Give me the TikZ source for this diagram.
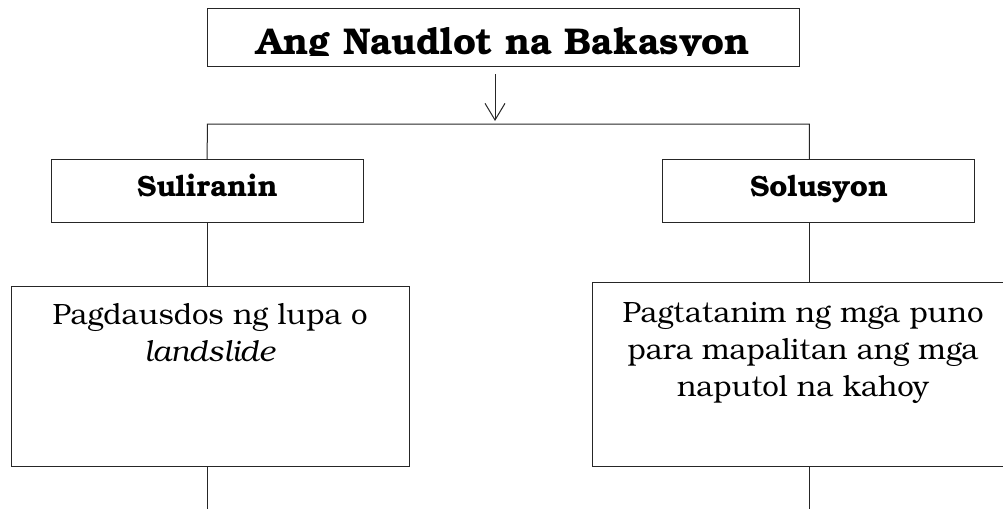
\documentclass[tikz,border=0pt]{standalone}
\usepackage{fontspec}
\setmainfont{texgyrebonum}[Extension=.otf,UprightFont=*-regular,BoldFont=*-bold,ItalicFont=*-italic,BoldItalicFont=*-bolditalic]
\usetikzlibrary{arrows.meta}
\tikzset{
  box/.style={draw=black!85,line width=0.75pt,inner sep=0pt,outer sep=0pt,rectangle},
  conn/.style={draw=black!85,line width=0.75pt},
  titletext/.style={inner sep=0pt,anchor=base,font=\bfseries\fontsize{27.95pt}{33pt}\selectfont},
  headtext/.style={inner sep=0pt,anchor=base,font=\bfseries\fontsize{22pt}{26pt}\selectfont},
  bodytext/.style={inner sep=0pt,anchor=base,align=center,font=\fontsize{22pt}{28pt}\selectfont},
}
\begin{document}
\begin{tikzpicture}[x=0.75pt,y=-0.75pt]
\useasboundingbox (0,0) rectangle (1003,508);
% boxes
\node[box,minimum width=443.85pt,minimum height=43.5pt] (title) at (503.4,37.3) {};
\node[box,minimum width=234.2pt,minimum height=47.55pt] (sul) at (207.2,191) {};
\node[box,minimum width=234.2pt,minimum height=47.55pt] (sol) at (818.8,191) {};
\node[box,minimum width=298.9pt,minimum height=135pt] (lb) at (210.5,376.7) {};
\node[box,minimum width=315.5pt,minimum height=138pt] (rb) at (803,374.7) {};
% texts
\begin{scope}
\clip (207.5,8.3) rectangle (799.3,55.5);
\node[titletext] (tt) at (503.4,54.3) {Ang Naudlot na Bakasyon};
\end{scope}
\node[headtext] (sult) at (207.5,196.7) {Suliranin};
\node[headtext] (solt) at (819,196.7) {Solusyon};
\node[bodytext] (lbt) at (210,361.7) {Pagdausdos ng lupa o\\\textit{landslide}};
\node[bodytext] (rbt) at (803,396.7) {Pagtatanim ng mga puno\\para mapalitan ang mga\\naputol na kahoy};
% connectors
\coordinate (a1) at (495,74);
\coordinate (a2) at (495,121);
\draw[conn,-{Straight Barb[length=12.5pt,width=15pt,line width=0.75pt]}] (a1) -- (a2);
\coordinate (jL) at (207.3,124);
\coordinate (jR) at (809.3,124);
\draw[conn] (sul.north) -- (jL) -- (jR) -- (jR |- sol.north);
\coordinate (bL) at (207.3,510);
\coordinate (bR) at (809.3,510);
\draw[conn] (sul.south) -- (sul.south |- lb.north);
\draw[conn] (lb.south -| bL) -- (bL);
\draw[conn] (jR |- sol.south) -- (jR |- rb.north);
\draw[conn] (rb.south -| bR) -- (bR);
\end{tikzpicture}
\end{document}
